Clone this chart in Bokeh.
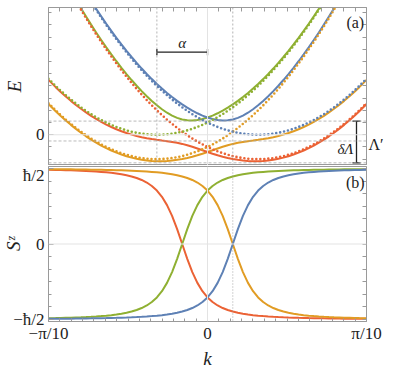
import math
from bokeh.plotting import figure
from bokeh.models import Range1d, FixedTicker, Label, Span, LinearAxis
from bokeh.layouts import column
from bokeh.embed import file_html
from bokeh.resources import INLINE

# ---------------- data ----------------
K = [-0.3142, -0.30, -0.29, -0.28, -0.27, -0.26, -0.25, -0.24, -0.23, -0.22, -0.21,
     -0.20, -0.19, -0.18, -0.17, -0.16, -0.15, -0.14, -0.13, -0.12, -0.11,
     -0.10, -0.09, -0.08, -0.07, -0.06, -0.05, -0.04, -0.03, -0.02, -0.01, 0.0,
     0.01, 0.02, 0.03, 0.04, 0.05, 0.06, 0.07, 0.08, 0.09, 0.10,
     0.11, 0.12, 0.13, 0.14, 0.15, 0.16, 0.17, 0.18, 0.19, 0.20,
     0.21, 0.22, 0.23, 0.24, 0.25, 0.26, 0.27, 0.28, 0.29, 0.30, 0.3142]

# panel (a): energies (arbitrary units, 0 = bottom of upper free bands)
E_blue_dot = [171.56, 160, 152.1, 144.4, 136.9, 129.6, 122.5, 115.6, 108.9, 102.4, 96.1,
              90, 84.1, 78.4, 72.9, 67.6, 62.5, 57.6, 52.9, 48.4, 44.1,
              40, 36.1, 32.4, 28.9, 25.6, 22.5, 19.6, 16.9, 14.4, 12.1, 10,
              8.1, 6.4, 4.9, 3.6, 2.5, 1.6, 0.9, 0.4, 0.1, 0,
              0.1, 0.4, 0.9, 1.6, 2.5, 3.6, 4.9, 6.4, 8.1, 10,
              12.1, 14.4, 16.9, 19.6, 22.5, 25.6, 28.9, 32.4, 36.1, 40, 45.88]
E_green_dot = [45.88, 40, 36.1, 32.4, 28.9, 25.6, 22.5, 19.6, 16.9, 14.4, 12.1,
               10, 8.1, 6.4, 4.9, 3.6, 2.5, 1.6, 0.9, 0.4, 0.1,
               0, 0.1, 0.4, 0.9, 1.6, 2.5, 3.6, 4.9, 6.4, 8.1, 10,
               12.1, 14.4, 16.9, 19.6, 22.5, 25.6, 28.9, 32.4, 36.1, 40,
               44.1, 48.4, 52.9, 57.6, 62.5, 67.6, 72.9, 78.4, 84.1, 90,
               96.1, 102.4, 108.9, 115.6, 122.5, 129.6, 136.9, 144.4, 152.1, 160, 171.56]
E_red_dot = [151.56, 140, 132.1, 124.4, 116.9, 109.6, 102.5, 95.6, 88.9, 82.4, 76.1,
             70, 64.1, 58.4, 52.9, 47.6, 42.5, 37.6, 32.9, 28.4, 24.1,
             20, 16.1, 12.4, 8.9, 5.6, 2.5, -0.4, -3.1, -5.6, -7.9, -10,
             -11.9, -13.6, -15.1, -16.4, -17.5, -18.4, -19.1, -19.6, -19.9, -20,
             -19.9, -19.6, -19.1, -18.4, -17.5, -16.4, -15.1, -13.6, -11.9, -10,
             -7.9, -5.6, -3.1, -0.4, 2.5, 5.6, 8.9, 12.4, 16.1, 20, 25.88]
E_orange_dot = [25.88, 20, 16.1, 12.4, 8.9, 5.6, 2.5, -0.4, -3.1, -5.6, -7.9,
                -10, -11.9, -13.6, -15.1, -16.4, -17.5, -18.4, -19.1, -19.6, -19.9,
                -20, -19.9, -19.6, -19.1, -18.4, -17.5, -16.4, -15.1, -13.6, -11.9, -10,
                -7.9, -5.6, -3.1, -0.4, 2.5, 5.6, 8.9, 12.4, 16.1, 20,
                24.1, 28.4, 32.9, 37.6, 42.5, 47.6, 52.9, 58.4, 64.1, 70,
                76.1, 82.4, 88.9, 95.6, 102.5, 109.6, 116.9, 124.4, 132.1, 140, 151.56]

E_blue = [172.24, 160.71, 152.83, 145.15, 137.68, 130.40, 123.33, 116.46, 109.79, 103.32, 97.05,
          90.99, 85.13, 79.47, 74.02, 68.77, 63.73, 58.89, 54.26, 49.84, 45.63,
          41.62, 37.83, 34.26, 30.90, 27.77, 24.86, 22.19, 19.77, 17.61, 15.72, 14.14,
          12.91, 12.06, 11.67, 11.80, 12.50, 13.80, 15.67, 18.06, 20.91, 24.14,
          27.72, 31.61, 35.77, 40.19, 44.86, 49.77, 54.90, 60.26, 65.83, 71.62,
          77.63, 83.84, 90.26, 96.89, 103.73, 110.77, 118.02, 125.47, 133.13, 140.99, 152.50]
E_green = [152.50, 140.99, 133.13, 125.47, 118.02, 110.77, 103.73, 96.89, 90.26, 83.84, 77.63,
           71.62, 65.83, 60.26, 54.90, 49.77, 44.86, 40.19, 35.77, 31.61, 27.72,
           24.14, 20.91, 18.06, 15.67, 13.80, 12.50, 11.80, 11.67, 12.06, 12.91, 14.14,
           15.72, 17.61, 19.77, 22.19, 24.86, 27.77, 30.90, 34.26, 37.83, 41.62,
           45.63, 49.84, 54.26, 58.89, 63.73, 68.77, 74.02, 79.47, 85.13, 90.99,
           97.05, 103.32, 109.79, 116.46, 123.33, 130.40, 137.68, 145.15, 152.83, 160.71, 172.24]
E_orange = [25.20, 19.29, 15.37, 11.65, 8.12, 4.80, 1.67, -1.26, -3.99, -6.52, -8.85,
            -10.99, -12.93, -14.67, -16.22, -17.57, -18.73, -19.69, -20.46, -21.04, -21.43,
            -21.62, -21.63, -21.46, -21.10, -20.57, -19.86, -18.99, -17.97, -16.81, -15.52, -14.14,
            -12.71, -11.26, -9.87, -8.60, -7.50, -6.60, -5.87, -5.26, -4.71, -4.14,
            -3.52, -2.81, -1.97, -0.99, 0.14, 1.43, 2.90, 4.54, 6.37, 8.38,
            10.57, 12.96, 15.54, 18.31, 21.27, 24.43, 27.78, 31.33, 35.07, 39.01, 44.94]
E_red = [44.94, 39.01, 35.07, 31.33, 27.78, 24.43, 21.27, 18.31, 15.54, 12.96, 10.57,
         8.38, 6.37, 4.54, 2.90, 1.43, 0.14, -0.99, -1.97, -2.81, -3.52,
         -4.14, -4.71, -5.26, -5.87, -6.60, -7.50, -8.60, -9.87, -11.26, -12.71, -14.14,
         -15.52, -16.81, -17.97, -18.99, -19.86, -20.57, -21.10, -21.46, -21.63, -21.62,
         -21.43, -21.04, -20.46, -19.69, -18.73, -17.57, -16.22, -14.67, -12.93, -10.99,
         -8.85, -6.52, -3.99, -1.26, 1.67, 4.80, 8.12, 11.65, 15.37, 19.29, 25.20]

# panel (b): spin expectation (units of hbar)
S_blue = [-0.4953, -0.4950, -0.4947, -0.4944, -0.4940, -0.4936, -0.4932, -0.4927, -0.4922, -0.4916, -0.4910,
          -0.4903, -0.4895, -0.4886, -0.4876, -0.4864, -0.4851, -0.4835, -0.4818, -0.4797, -0.4772,
          -0.4743, -0.4709, -0.4667, -0.4615, -0.4552, -0.4472, -0.4371, -0.4240, -0.4069, -0.3841, -0.3536,
          -0.3123, -0.2572, -0.1857, -0.0981, 0.0, 0.0981, 0.1857, 0.2572, 0.3123, 0.3536,
          0.3841, 0.4069, 0.4240, 0.4371, 0.4472, 0.4552, 0.4615, 0.4667, 0.4709, 0.4743,
          0.4772, 0.4797, 0.4818, 0.4835, 0.4851, 0.4864, 0.4876, 0.4886, 0.4895, 0.4903, 0.4912]
S_orange = [0.4953, 0.4950, 0.4947, 0.4944, 0.4940, 0.4936, 0.4932, 0.4927, 0.4922, 0.4916, 0.4910,
            0.4903, 0.4895, 0.4886, 0.4876, 0.4864, 0.4851, 0.4835, 0.4818, 0.4797, 0.4772,
            0.4743, 0.4709, 0.4667, 0.4615, 0.4552, 0.4472, 0.4371, 0.4240, 0.4069, 0.3841, 0.3536,
            0.3123, 0.2572, 0.1857, 0.0981, 0.0, -0.0981, -0.1857, -0.2572, -0.3123, -0.3536,
            -0.3841, -0.4069, -0.4240, -0.4371, -0.4472, -0.4552, -0.4615, -0.4667, -0.4709, -0.4743,
            -0.4772, -0.4797, -0.4818, -0.4835, -0.4851, -0.4864, -0.4876, -0.4886, -0.4895, -0.4903, -0.4912]
S_green = [-0.4912, -0.4903, -0.4895, -0.4886, -0.4876, -0.4864, -0.4851, -0.4835, -0.4818, -0.4797, -0.4772,
           -0.4743, -0.4709, -0.4667, -0.4615, -0.4552, -0.4472, -0.4371, -0.4240, -0.4069, -0.3841,
           -0.3536, -0.3123, -0.2572, -0.1857, -0.0981, 0.0, 0.0981, 0.1857, 0.2572, 0.3123, 0.3536,
           0.3841, 0.4069, 0.4240, 0.4371, 0.4472, 0.4552, 0.4615, 0.4667, 0.4709, 0.4743,
           0.4772, 0.4797, 0.4818, 0.4835, 0.4851, 0.4864, 0.4876, 0.4886, 0.4895, 0.4903,
           0.4910, 0.4916, 0.4922, 0.4927, 0.4932, 0.4936, 0.4940, 0.4944, 0.4947, 0.4950, 0.4953]
S_red = [0.4912, 0.4903, 0.4895, 0.4886, 0.4876, 0.4864, 0.4851, 0.4835, 0.4818, 0.4797, 0.4772,
         0.4743, 0.4709, 0.4667, 0.4615, 0.4552, 0.4472, 0.4371, 0.4240, 0.4069, 0.3841,
         0.3536, 0.3123, 0.2572, 0.1857, 0.0981, 0.0, -0.0981, -0.1857, -0.2572, -0.3123, -0.3536,
         -0.3841, -0.4069, -0.4240, -0.4371, -0.4472, -0.4552, -0.4615, -0.4667, -0.4709, -0.4743,
         -0.4772, -0.4797, -0.4818, -0.4835, -0.4851, -0.4864, -0.4876, -0.4886, -0.4895, -0.4903,
         -0.4910, -0.4916, -0.4922, -0.4927, -0.4932, -0.4936, -0.4940, -0.4944, -0.4947, -0.4950, -0.4953]

# reference values
ALPHA = 0.1          # k-shift of the free bands
K_CROSS = 0.05       # avoided crossing
E_LEVELS = [11.2, -5.1, -23.0]   # dashed energy levels
K_MAX = math.pi / 10

# ---------------- style ----------------
BLUE, ORANGE, GREEN, RED = "#5E81B5", "#E19C24", "#8FB032", "#EB6235"
FRAME = "#9a9a9a"
SERIF = "Liberation Serif"
INK = "#222222"


def style_axis(ax, size="17px"):
    ax.axis_line_color = FRAME
    ax.major_tick_line_color = FRAME
    ax.minor_tick_line_color = FRAME
    ax.major_tick_in = 5
    ax.major_tick_out = 0
    ax.minor_tick_in = 3
    ax.minor_tick_out = 0
    ax.major_label_text_font = SERIF
    ax.major_label_text_font_size = size
    ax.major_label_text_color = INK
    ax.major_label_standoff = 4
    ax.axis_label_text_font = SERIF
    ax.axis_label_text_font_style = "italic"
    ax.axis_label_text_font_size = "19px"
    ax.axis_label_text_color = INK


def base_fig(height, y0, y1, top, bottom):
    p = figure(width=400, height=height, output_backend="svg", toolbar_location=None,
               x_range=Range1d(-K_MAX, K_MAX), y_range=Range1d(y0, y1),
               x_axis_location="below" if bottom else None,
               min_border_left=48, min_border_right=34, min_border_top=top,
               min_border_bottom=bottom)
    p.xgrid.grid_line_color = None
    p.ygrid.grid_line_color = None
    p.outline_line_color = FRAME
    p.outline_line_width = 1
    p.background_fill_color = "white"
    p.border_fill_color = "white"
    return p


def mirror_axis(ticks, labels=None):
    ax = LinearAxis(ticker=FixedTicker(ticks=list(labels.keys()) if labels else [], minor_ticks=ticks))
    ax.axis_line_color = FRAME
    ax.minor_tick_line_color = FRAME
    ax.major_tick_line_color = None
    ax.minor_tick_in = 4
    ax.minor_tick_out = 0
    ax.major_tick_in = 0
    ax.major_tick_out = 0
    ax.major_label_standoff = 2 if labels else 0
    ax.major_label_text_font = SERIF
    ax.major_label_text_font_size = "16px"
    ax.major_label_text_color = INK
    if labels:
        ax.major_label_overrides = labels
    return ax


k_minor = [i * K_MAX / 14 for i in range(-14, 15) if i not in (-14, 0, 14)]

# ---------------- panel (a) ----------------
pa = base_fig(165, -25.2, 104.3, 7, 0)
e_minor = [-20, -10, 10, 20, 30, 40, 50, 60, 70, 80, 90, 100]
pa.yaxis.ticker = FixedTicker(ticks=[0], minor_ticks=e_minor)
style_axis(pa.yaxis[0])
pa.yaxis.axis_label = "E"
pa.yaxis.axis_label_standoff = 8
# right frame ticks, with the Λ′ marker label beside the bar
pa.add_layout(mirror_axis([-20, -10, 0, 10, 20, 30, 40, 50, 60, 70, 80, 90, 100], {-8.0: "Λ′"}), "right")
pa.add_layout(mirror_axis(k_minor + [0]), "above")

pa.add_layout(Span(location=0, dimension="width", line_color="#e3e3e3", line_width=1))
pa.add_layout(Span(location=0, dimension="height", line_color="#e3e3e3", line_width=1))
for lv in E_LEVELS:
    pa.add_layout(Span(location=lv, dimension="width", line_color="#a8a8a8",
                       line_width=0.8, line_dash="3 2"))
for kv in [-ALPHA, K_CROSS]:
    pa.add_layout(Span(location=kv, dimension="height", line_color="#a0a0a0",
                       line_width=0.8, line_dash="2 2"))

for arr, col in [(E_orange, ORANGE), (E_red, RED), (E_green, GREEN), (E_blue, BLUE)]:
    pa.line(K, arr, line_color=col, line_width=2)
for arr, col in [(E_orange_dot, ORANGE), (E_red_dot, RED), (E_green_dot, GREEN), (E_blue_dot, BLUE)]:
    pa.line(K, arr, line_color=col, line_width=2.6, line_dash="0 4", line_cap="round")

# alpha bar
ya = 67.7
pa.segment(x0=[-ALPHA, -ALPHA, 0], y0=[ya, ya - 2.6, ya - 2.6], x1=[0, -ALPHA, 0], y1=[ya, ya + 2.6, ya + 2.6],
           line_color=INK, line_width=1.3)
pa.add_layout(Label(x=-ALPHA / 2, y=74.8, text="α", text_font=SERIF, text_font_style="italic",
                    text_font_size="15px", text_align="center", text_baseline="middle", text_color=INK))
# Lambda' bar
kb = 0.2944
pa.segment(x0=[kb, kb - 0.008, kb - 0.008], y0=[E_LEVELS[0], E_LEVELS[0], E_LEVELS[2]],
           x1=[kb, kb + 0.008, kb + 0.008], y1=[E_LEVELS[2], E_LEVELS[0], E_LEVELS[2]],
           line_color=INK, line_width=1.3)
pa.add_layout(Label(x=0.2725, y=-12.0, text="δΛ", text_font=SERIF, text_font_style="italic",
                    text_font_size="15px", text_align="center", text_baseline="middle", text_color=INK))
pa.add_layout(Label(x=0.292, y=92.0, text="(a)", text_font=SERIF,
                    text_font_size="16px", text_align="center", text_baseline="middle", text_color=INK))

# ---------------- panel (b) ----------------
pb = base_fig(206, -0.513, 0.513, 1, 46)
sz_minor = [-0.4167, -0.3333, -0.25, -0.1667, -0.0833, 0.0833, 0.1667, 0.25, 0.3333, 0.4167]
pb.yaxis.ticker = FixedTicker(ticks=[-0.5, 0, 0.5], minor_ticks=sz_minor)
pb.yaxis.major_label_overrides = {-0.5: "−ħ/2", 0: "0", 0.5: "ħ/2"}
style_axis(pb.yaxis[0])
pb.yaxis.axis_label = "Sᶻ"
pb.yaxis.axis_label_standoff = -14
pb.xaxis.ticker = FixedTicker(ticks=[-K_MAX, 0, K_MAX], minor_ticks=k_minor)
pb.xaxis.major_label_overrides = {-K_MAX: "−π/10", 0: "0", K_MAX: "π/10"}
style_axis(pb.xaxis[0], "17px")
pb.xaxis.major_label_standoff = 2
pb.xaxis.axis_label = "k"
pb.xaxis.axis_label_standoff = 2
pb.add_layout(mirror_axis([-0.5, 0, 0.5] + sz_minor), "right")

pb.add_layout(Span(location=0, dimension="width", line_color="#e3e3e3", line_width=1))
pb.add_layout(Span(location=0, dimension="height", line_color="#e3e3e3", line_width=1))
pb.add_layout(Span(location=K_CROSS, dimension="height", line_color="#909090",
                   line_width=0.8, line_dash="1 2"))

for arr, col in [(S_red, RED), (S_green, GREEN), (S_orange, ORANGE), (S_blue, BLUE)]:
    pb.line(K, arr, line_color=col, line_width=2)

pb.add_layout(Label(x=0.292, y=0.41, text="(b)", text_font=SERIF,
                    text_font_size="16px", text_align="center", text_baseline="middle", text_color=INK))

layout = column(pa, pb, spacing=0)
open("out.html", "w").write(file_html(layout, INLINE))
